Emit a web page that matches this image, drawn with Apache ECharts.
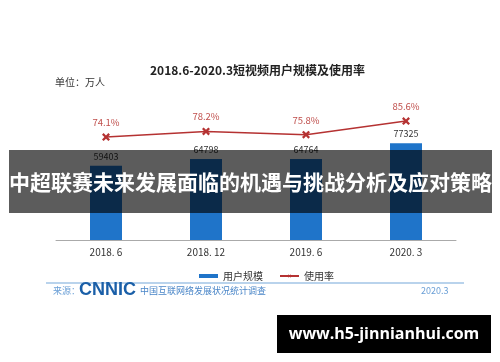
<!DOCTYPE html>
<html><head><meta charset="utf-8">
<script src="https://cdn.jsdelivr.net/npm/echarts@6/dist/echarts.min.js"></script>
<style>html,body{margin:0;padding:0;background:#fff}#c{width:500px;height:362px}</style>
</head><body><div id="c"></div>
<script>
const categories = ['2018. 6', '2018. 12', '2019. 6', '2020. 3'];
const users = [59403, 64798, 64764, 77325];
const rates = [74.1, 78.2, 75.8, 85.6];
const FONT = '"Noto Sans CJK SC", "Noto Sans", sans-serif';
const chart = echarts.init(document.getElementById('c'), null, {renderer: 'canvas'});
chart.setOption({
  animation: false,
  textStyle: {fontFamily: FONT},
  title: {
    text: '2018.6-2020.3短视频用户规模及使用率',
    left: 150, top: 64, padding: 0,
    textStyle: {fontSize: 12, fontWeight: 'bold', color: '#222', fontFamily: FONT}
  },
  grid: {left: 56, right: 44, top: 115, bottom: 122},
  legend: {
    top: 266, left: 194, itemGap: 16, itemWidth: 19, itemHeight: 4,
    textStyle: {fontSize: 10, color: '#333', fontFamily: FONT},
    data: [{name: '用户规模', icon: 'rect'}, {name: '使用率'}]
  },
  xAxis: {
    type: 'category', data: categories,
    axisLine: {lineStyle: {color: '#aaa'}},
    axisTick: {inside: true, length: 4, lineStyle: {color: '#aaa'}},
    axisLabel: {fontSize: 10, color: '#333', margin: 7, fontFamily: FONT}
  },
  yAxis: [
    {type: 'value', min: 0, max: 100000, show: false},
    {type: 'value', min: 0, max: 90, show: false}
  ],
  series: [
    {
      name: '用户规模', type: 'bar', data: users, barWidth: 32,
      itemStyle: {color: '#1f74c9'},
      label: {show: true, position: 'top', distance: 5, fontSize: 9, color: '#333', fontFamily: FONT}
    },
    {
      name: '使用率', type: 'line', yAxisIndex: 1, data: rates,
      lineStyle: {color: '#b53232', width: 1.5},
      itemStyle: {color: '#b53232'},
      symbol: 'path://M2,0 L5,3 L8,0 L10,2 L7,5 L10,8 L8,10 L5,7 L2,10 L0,8 L3,5 L0,2 Z',
      symbolSize: 8,
      label: {show: true, position: 'top', distance: 6, fontSize: 9.5, color: '#c0504d',
        formatter: p => p.value.toFixed(1) + '%', fontFamily: FONT}
    }
  ],
  graphic: [
    {type: 'text', left: 55, top: 77, style: {text: '单位：万人', fill: '#333', font: '10px ' + FONT}},
    {type: 'rect', shape: {x: 46, y: 282, width: 418, height: 2}, style: {fill: '#b9d3ec'}},
    {type: 'text', left: 53, top: 286, style: {text: '来源：', fill: '#6a9fd6', font: '9px ' + FONT}},
    {type: 'text', left: 79, top: 281, style: {text: 'CNNIC', fill: '#1a5fa8', font: 'bold 18px "Liberation Sans", Arial, sans-serif'}},
    {type: 'text', left: 140, top: 286, style: {text: '中国互联网络发展状况统计调查', fill: '#4a86c8', font: '9px ' + FONT}},
    {type: 'text', left: 421, top: 286, style: {text: '2020.3', fill: '#6a9fd6', font: '9px ' + FONT}},
    {type: 'rect', z: 100, shape: {x: 9, y: 150, width: 483, height: 63}, style: {fill: 'rgba(0,0,0,0.64)'}},
    {type: 'text', z: 101, x: 250.5, y: 182, style: {text: '中超联赛未来发展面临的机遇与挑战分析及应对策略', fill: '#fff', font: 'bold 21px ' + FONT, align: 'center', verticalAlign: 'middle'}},
    {type: 'rect', z: 100, shape: {x: 277, y: 315, width: 214, height: 38}, style: {fill: '#000'}},
    {type: 'text', z: 101, x: 384, y: 334, style: {text: 'www.h5-jinnianhui.com', fill: '#fff', font: 'bold 16px "Open Sans", "DejaVu Sans", sans-serif', align: 'center', verticalAlign: 'middle'}}
  ]
});
</script></body></html>
